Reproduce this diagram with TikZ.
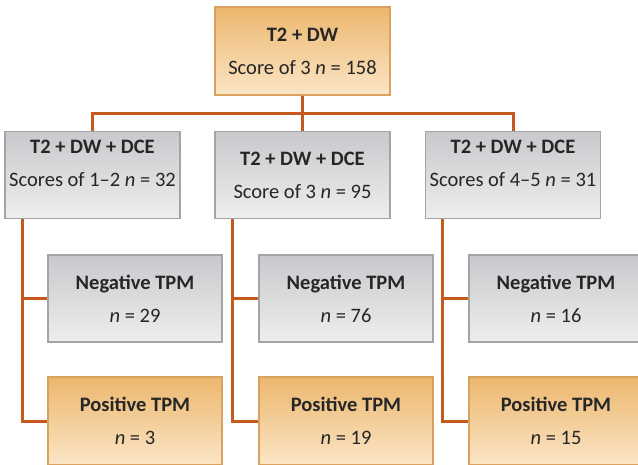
\documentclass[tikz,border=0pt]{standalone}
\usepackage{fontspec}
\setmainfont{Carlito}
\usepackage{xcolor}
\usepackage{tikz}

\definecolor{linkorange}{HTML}{C55A1C}
\definecolor{grayline}{HTML}{A4A4A6}
\definecolor{graytop}{HTML}{C8C9CC}
\definecolor{graybot}{HTML}{EEEEEF}
\definecolor{tanline}{HTML}{D9A25E}
\definecolor{tantop}{HTML}{ECB76E}
\definecolor{tanbot}{HTML}{FBE5C6}
\newcommand{\liftup}{\rule[-23pt]{0pt}{0pt}}

\begin{document}
\begin{tikzpicture}[x=1pt,y=-1pt]
	\tikzset{box/.style={rectangle, line width=1.2pt, align=center, inner sep=0pt,
		minimum width=175pt, minimum height=87pt, text=black!85,
		font=\fontsize{20.5}{33}\selectfont}}
	\tikzset{gray box/.style={box, draw=grayline, top color=graytop, bottom color=graybot}}
	\tikzset{tan box/.style={box, draw=tanline, top color=tantop, bottom color=tanbot}}
	\tikzset{link/.style={draw=linkorange, line width=3pt}}
	\useasboundingbox (0,0) rectangle (638,464);

	% top level
	\node[tan box, minimum height=88pt] (dw) at (302.5,51) {\textbf{T2 + DW}\\Score of 3 \textit{n} = 158};

	% second level
	\node[gray box] (dce1) at (92.5,175) {\textbf{T2 + DW + DCE}\\Scores of 1--2 \textit{n} = 32\liftup};
	\node[gray box] (dce2) at (302.5,175) {\textbf{T2 + DW + DCE}\\Score of 3 \textit{n} = 95};
	\node[gray box] (dce3) at (513,175) {\textbf{T2 + DW + DCE}\\Scores of 4--5 \textit{n} = 31\liftup};

	% TPM results
	\node[gray box, minimum width=174pt] (neg1) at (135,298.5) {\textbf{Negative TPM}\\\textit{n} = 29};
	\node[gray box, minimum width=174pt] (neg2) at (346,298.5) {\textbf{Negative TPM}\\\textit{n} = 76};
	\node[gray box, minimum width=174pt] (neg3) at (556,298.5) {\textbf{Negative TPM}\\\textit{n} = 16};
	\node[tan box, minimum width=174pt, minimum height=88pt] (pos1) at (135,421) {\textbf{Positive TPM}\\\textit{n} = 3};
	\node[tan box, minimum width=174pt, minimum height=88pt] (pos2) at (346,421) {\textbf{Positive TPM}\\\textit{n} = 19};
	\node[tan box, minimum width=174pt, minimum height=88pt] (pos3) at (556,421) {\textbf{Positive TPM}\\\textit{n} = 15};

	% connectors
	\coordinate (split) at (302.5,113);
	\draw[link] (dw.south) -- (split);
	\draw[link] (dce1.north) |- (split) -| (dce3.north);
	\draw[link] (split) -- (dce2.north);

	\coordinate (trunk1) at ([xshift=18pt]dce1.south west);
	\coordinate (trunk2) at ([xshift=18pt]dce2.south west);
	\coordinate (trunk3) at ([xshift=18pt]dce3.south west);
	\draw[link] (trunk1) |- (pos1.west);
	\draw[link] (trunk1 |- neg1.west) -- (neg1.west);
	\draw[link] (trunk2) |- (pos2.west);
	\draw[link] (trunk2 |- neg2.west) -- (neg2.west);
	\draw[link] (trunk3) |- (pos3.west);
	\draw[link] (trunk3 |- neg3.west) -- (neg3.west);
\end{tikzpicture}
\end{document}
